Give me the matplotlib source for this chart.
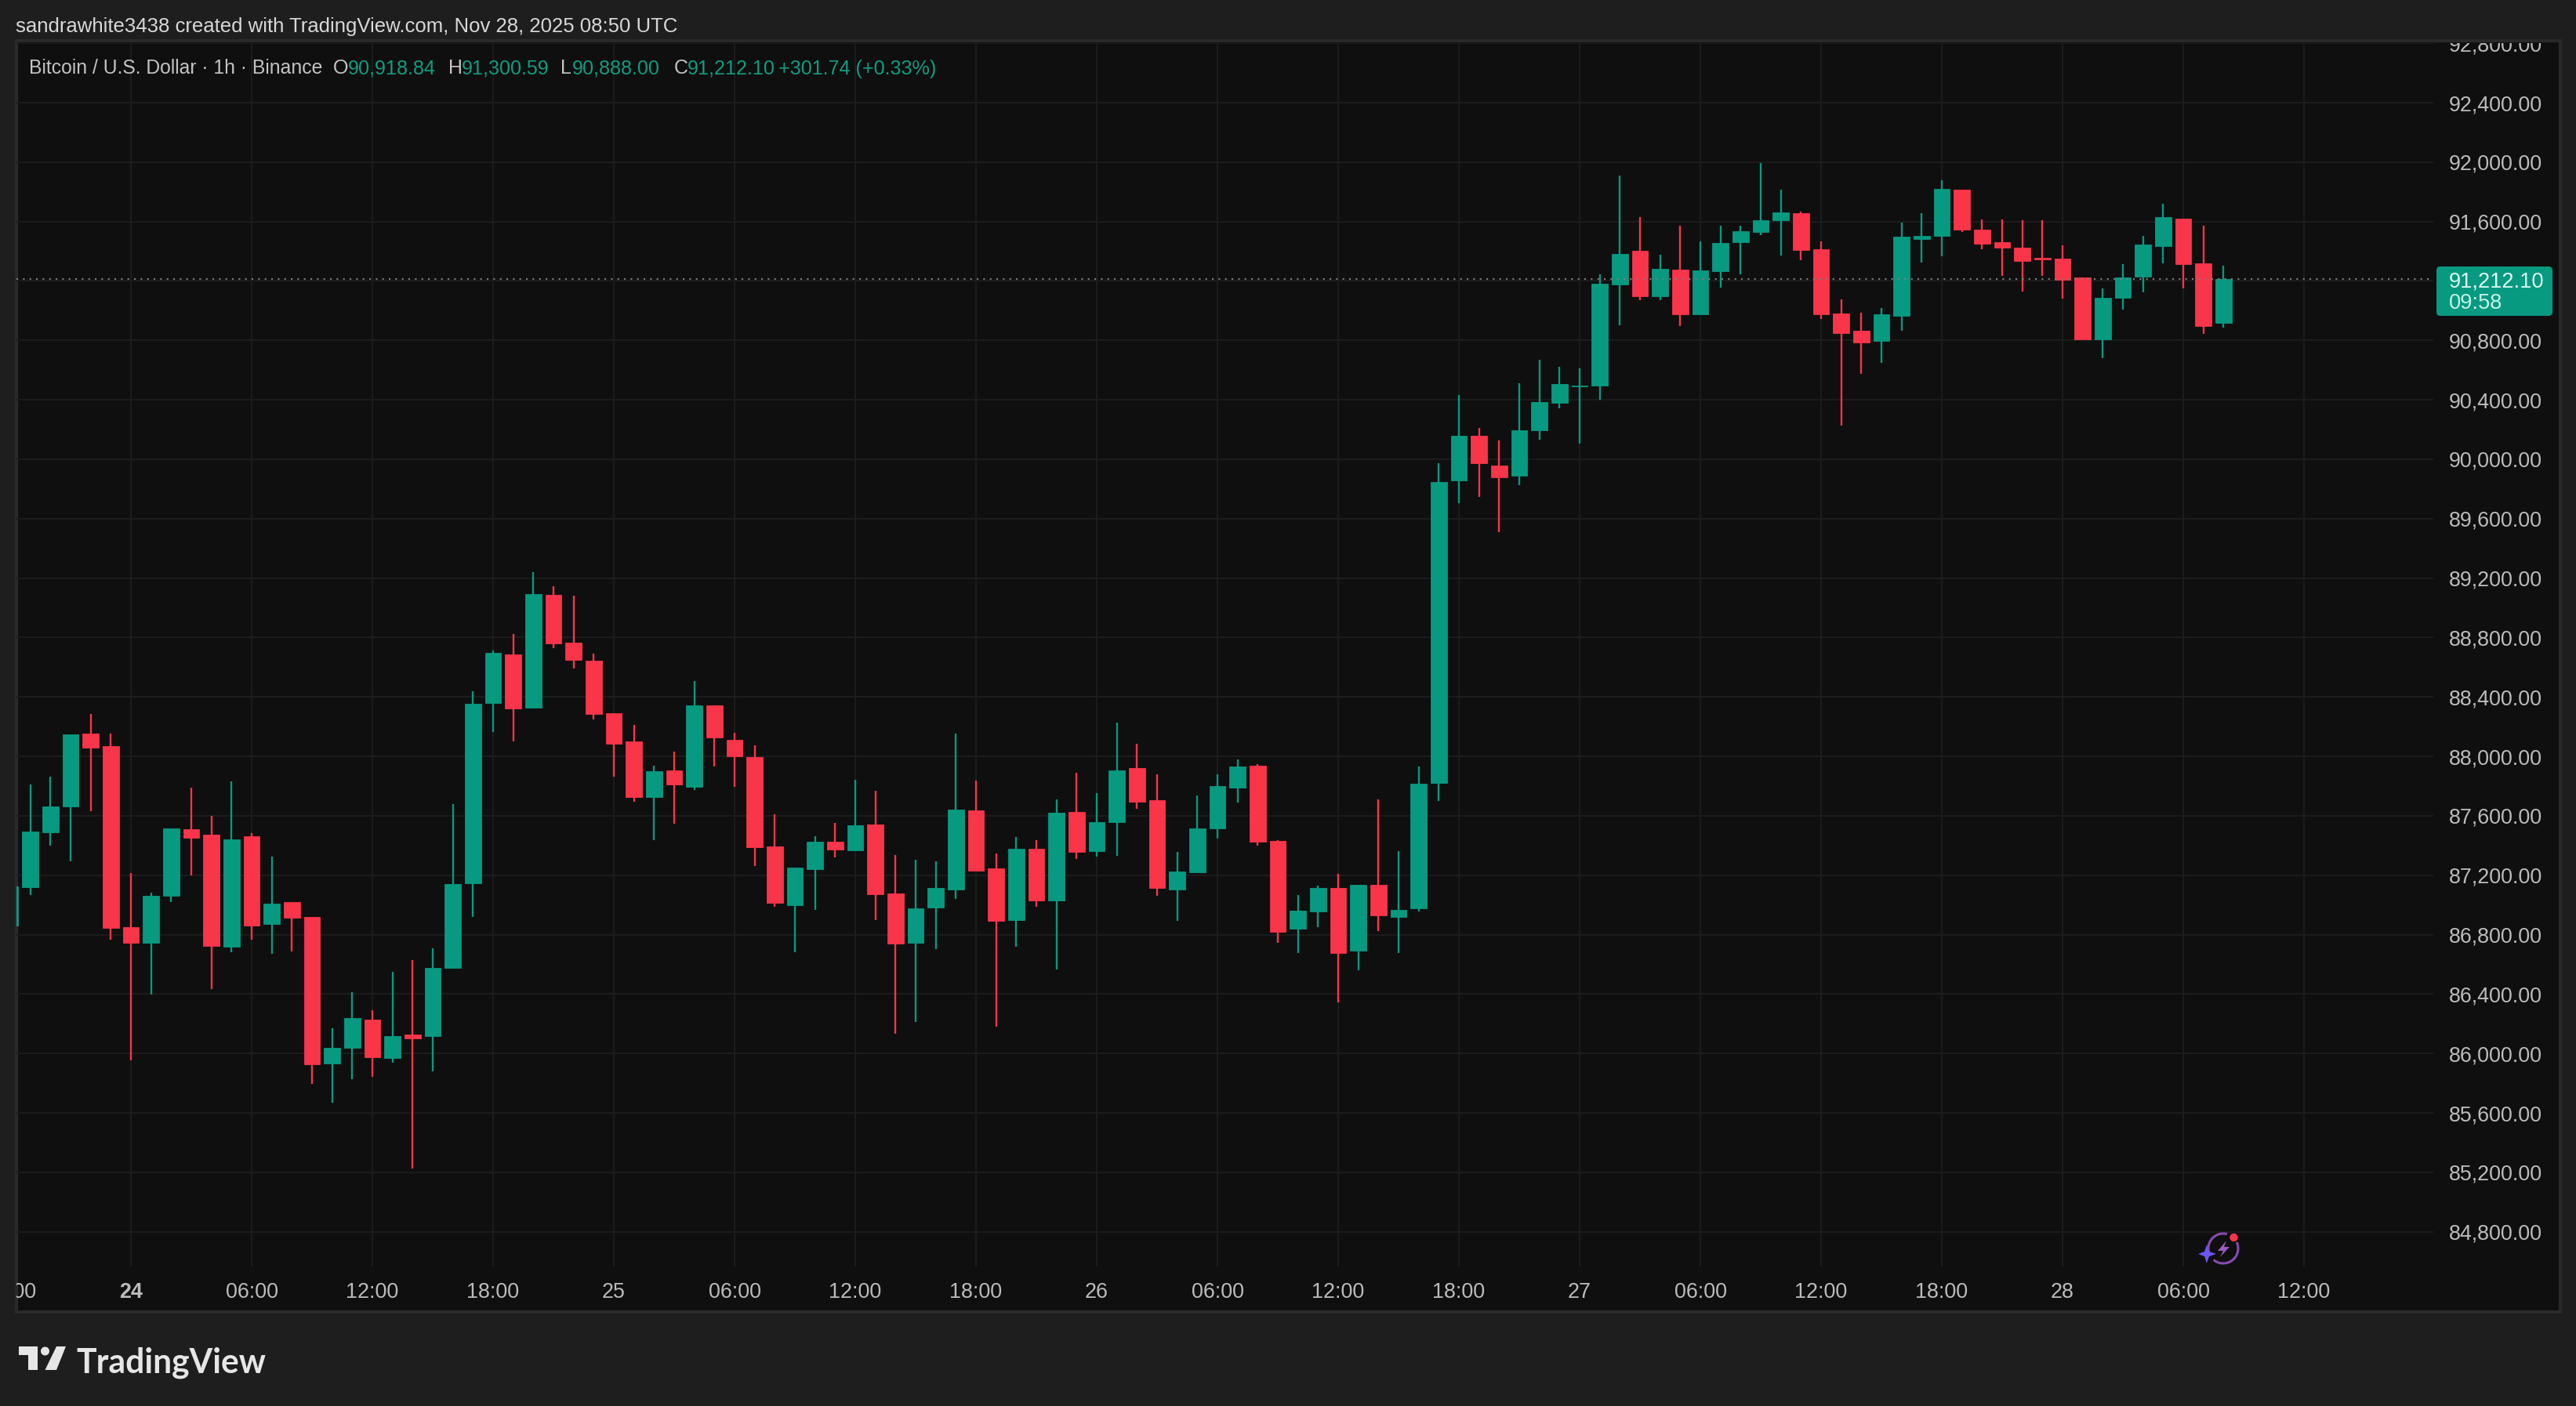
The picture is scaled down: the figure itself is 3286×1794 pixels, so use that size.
import matplotlib
matplotlib.use("Agg")
import matplotlib.pyplot as plt
from matplotlib.patches import Rectangle, FancyBboxPatch, Polygon, Circle, Arc

plt.rcParams['font.family'] = ['Liberation Sans', 'DejaVu Sans']

# ---------- data: hourly BTC/USD candles, hour 0 = Nov 24 00:00 ----------
first_hour = -6
opens = [86864,87122,87490,87661,88153,88069,86849,86747,87064,87508,87473,86720,87462,86874,87020,
         86920,85934,86036,86226,85971,86128,86117,86578,87146,88360,88685,88329,89090,88765,88644,
         88293,88101,87728,87905,87797,88343,88114,87995,87392,87000,87242,87426,87369,87542,87077,
         86746,86985,87104,87635,87245,86898,87376,87028,87626,87362,87558,87921,87705,87104,87222,
         87517,87791,87937,87431,86838,86958,87113,86691,87136,86921,86975,87823,89855,90157,89958,
         89888,90194,90378,90490,90497,91174,91403,91099,91276,90977,91268,91463,91531,91609,91654,
         91412,90981,90865,90796,90963,91482,91505,91814,91545,91461,91424,91356,91348,91224,90805,
         91086,91231,91436,91619,91317,90918.84]
highs = [87125,87813,87865,88151,88286,88153,87214,87083,87517,87792,87598,87834,87485,87327,87020,
         86920,86169,86415,86290,86551,86630,86707,87677,88439,88715,88825,89242,89144,89080,88690,
         88293,88210,87939,88032,88506,88345,88158,88074,87609,87250,87463,87553,87845,87768,87334,
         87307,87292,88154,87837,87345,87456,87434,87710,87890,87754,88229,88083,87878,87355,87737,
         87878,87978,87946,87438,87069,87130,87209,87136,87710,87364,87934,89973,90430,90209,90124,
         90512,90672,90624,90612,91245,91908,91632,91377,91570,91465,91570,91570,91992,91816,91667,
         91465,91078,90986,91020,91593,91654,91878,91814,91614,91614,91610,91609,91438,91224,91148,
         91315,91503,91720,91619,91570,91300.59]
lows = [86864,87068,87402,87296,87631,86764,85952,86395,87020,87198,86436,86680,86764,86672,86687,
        85796,85671,85825,85842,85936,85227,85879,86578,86917,88164,88101,88329,88731,88589,88247,
        87866,87695,87438,87546,87776,87932,87797,87261,86990,86681,86969,87319,87369,86900,86134,
        86214,86704,87042,87232,86181,86717,86986,86568,87311,87324,87332,87649,87060,86893,87222,
        87447,87689,87399,86743,86677,86849,86344,86559,86823,86678,86954,87702,89703,89746,89512,
        89824,90133,90345,90103,90400,90902,91072,91069,90897,90977,91157,91245,91509,91371,91341,
        90946,90228,90577,90647,90867,91324,91364,91530,91412,91236,91130,91236,91083,90809,90682,
        91007,91122,91320,91152,90844,90888.00]
closes = [87125,87494,87661,88151,88061,86845,86743,87064,87517,87452,86724,87442,86864,87010,86912,
          85930,86036,86238,85977,86117,86103,86578,87139,88356,88698,88324,89092,88762,88652,88285,
          88085,87724,87901,87811,88343,88130,88003,87390,87017,87250,87426,87373,87536,87075,86739,
          86977,87115,87642,87232,86893,87378,87028,87621,87359,87556,87907,87696,87113,87225,87515,
          87798,87932,87427,86821,86960,87113,86678,87136,86928,86967,87816,89845,90157,89976,89879,
          90194,90384,90506,90496,91183,91382,91095,91282,90977,91271,91456,91533,91609,91661,91408,
          90977,90849,90788,90977,91496,91503,91820,91547,91452,91426,91336,91347,91210,90809,91085,
          91224,91445,91628,91312,90898,91212.10]

price_ticks = [84800,85200,85600,86000,86400,86800,87200,87600,88000,88400,88800,89200,
               89600,90000,90400,90800,91200,91600,92000,92400,92800]
time_ticks = [-6,0,6,12,18,24,30,36,42,48,54,60,66,72,78,84,90,96,102,108]
time_labels = ['18:00','24','06:00','12:00','18:00','25','06:00','12:00','18:00','26','06:00','12:00',
               '18:00','27','06:00','12:00','18:00','28','06:00','12:00']
bold_labels = ['24']
last_price = 91212.10
last_price_label = '91,212.10'
countdown = '09:58'
header = 'sandrawhite3438 created with TradingView.com, Nov 28, 2025 08:50 UTC'
symbol = 'Bitcoin / U.S. Dollar · 1h · Binance'
ohlc_text = [('O', '90,918.84'), ('H', '91,300.59'), ('L', '90,888.00'), ('C', '91,212.10')]
change_text = '+301.74 (+0.33%)'

# ---------- style ----------
W, H = 3286, 1794
BG, PANE, GRID, EDGE = '#1e1e1e', '#0f0f0f', '#1c1c1c', '#2a2a2a'
UP, DOWN = '#089981', '#F93549'
TXT = '#bcbcbc'

fig = plt.figure(figsize=(W / 100, H / 100), dpi=100, facecolor=BG)

def px_axes(x0, y0, x1, y1, z):
    a = fig.add_axes([x0 / W, 1 - y1 / H, (x1 - x0) / W, (y1 - y0) / H], zorder=z)
    a.patch.set_alpha(0)
    return a

back = px_axes(0, 0, W, H, 0)
back.set_xlim(0, W); back.set_ylim(H, 0); back.axis('off')
back.add_patch(Rectangle((21, 52), 3245, 1622, fc=PANE, ec=EDGE, lw=3))

PL, PR, PT, PB = 21, 3104, 55, 1616
x_at = lambda px: (px - 167) / 25.667
y_at = lambda px: 92400 - (px - 131) / 0.18958

ax = px_axes(PL, PT, PR, PB, 1)
for s in ax.spines.values():
    s.set_visible(False)
ax.set_xticks(time_ticks)
ax.set_yticks(price_ticks)
ax.tick_params(length=0, labelbottom=False, labelleft=False)
ax.grid(True, color=GRID, lw=1.5, zorder=0)
ax.set_axisbelow(True)

hours = [first_hour + i for i in range(len(opens))]
colors = [UP if c >= o else DOWN for o, c in zip(opens, closes)]
ax.vlines(hours, lows, highs, colors=colors, lw=1.7, zorder=2)
ax.bar(hours, [abs(c - o) for o, c in zip(opens, closes)], bottom=[min(o, c) for o, c in zip(opens, closes)],
       width=0.8, color=colors, edgecolor=colors, lw=0.6, zorder=3)
ax.axhline(last_price, color='#7d7d7d', lw=1.5, ls=(0, (1, 3)), zorder=4)
ax.set_xlim(x_at(PL), x_at(PR))
ax.set_ylim(y_at(PB), y_at(PT))

# price axis
pa = px_axes(PR, PT, 3266, PB + 1, 1)
pa.set_xlim(PR, 3266); pa.set_ylim(y_at(PB + 1), y_at(PT)); pa.axis('off')
for p in price_ticks:
    if p != 91200:
        pa.text(3243, p, f'{p:,.2f}', ha='right', va='center_baseline', fontsize=19.4, color=TXT, clip_on=True)

# time axis
ta = px_axes(PL, PB, 3266, 1672, 1)
ta.set_xlim(x_at(PL), x_at(3266)); ta.set_ylim(0, 1); ta.axis('off')
for h, lab in zip(time_ticks, time_labels):
    ta.text(h, 0.47, lab, ha='center', va='center_baseline', fontsize=19.4, color=TXT, clip_on=True,
            fontweight='bold' if lab in bold_labels else 'normal')

# overlay: header, legend, price label, logo, icon
ov = px_axes(0, 0, W, H, 3)
ov.set_xlim(0, W); ov.set_ylim(H, 0); ov.axis('off')
ov.text(20, 31, header, fontsize=18.5, color='#d8d8d8', va='center_baseline')
ov.text(37, 85, symbol, fontsize=17.8, color='#c4c4c4', va='center_baseline')
lx = [(425, 444), (572, 589), (715, 730), (860, 877)]
for (a, b), (k, v) in zip(lx, ohlc_text):
    ov.text(a, 85, k, fontsize=18, color='#c4c4c4', va='center_baseline')
    ov.text(b, 85, v, fontsize=18.1, color='#0f9d80', va='center_baseline')
ov.text(993, 85, change_text, fontsize=18.1, color='#0f9d80', va='center_baseline')

ov.add_patch(FancyBboxPatch((3112, 344), 140, 55, boxstyle='round,pad=4,rounding_size=5', fc=UP, ec='none'))
ov.text(3124, 357, last_price_label, fontsize=19.6, color='#dffcf4', va='center_baseline')
ov.text(3124, 384, countdown, fontsize=19.6, color='#c4f5e7', va='center_baseline')

# TradingView logo
ov.add_patch(Polygon([(24, 1718), (48, 1718), (48, 1748), (36, 1748), (36, 1729), (24, 1729)], fc='#e6e6e6', ec='none'))
ov.add_patch(Circle((57.5, 1724), 5.5, fc='#e6e6e6', ec='none'))
ov.add_patch(Polygon([(72, 1718), (84, 1718), (72, 1748), (57.5, 1748)], fc='#e6e6e6', ec='none'))
ov.text(97, 1735, 'TradingView', fontsize=30.7, family='Lato', fontweight='bold', color='#e6e6e6', va='center_baseline')

# flash icon
ov.add_patch(Arc((2836, 1593), 38, 38, theta1=-210, theta2=-75, ec='#8a4bb0', lw=2.2))
ov.add_patch(Arc((2836, 1593), 38, 38, theta1=-25, theta2=130, ec='#8a4bb0', lw=2.2))
ov.add_patch(Polygon([(2840, 1583), (2829, 1596), (2836, 1596), (2832, 1604), (2844, 1591), (2837, 1591)], fc='#9a5cc0', ec='none'))
ov.add_patch(Polygon([(2815, 1588), (2818, 1597), (2827, 1600), (2818, 1603), (2815, 1612), (2812, 1603), (2804, 1600), (2812, 1597)], fc='#6a55f5', ec='none'))
ov.add_patch(Circle((2849.5, 1579), 5.2, fc=DOWN, ec='none'))

fig.savefig('out.png', dpi=100, facecolor=BG)
